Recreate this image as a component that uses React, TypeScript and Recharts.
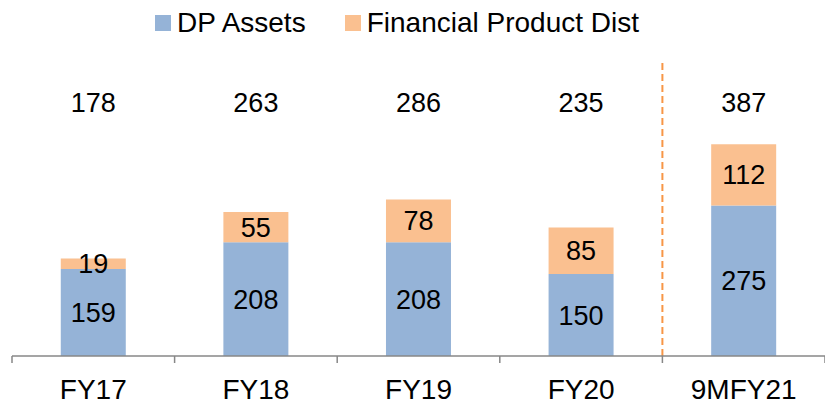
import { Bar, BarChart, LabelList, Legend, ReferenceLine, XAxis, YAxis } from "recharts";

const categories = ["FY17", "FY18", "FY19", "FY20", "9MFY21"];
const dpAssets = [159, 208, 208, 150, 275];
const financialProductDist = [19, 55, 78, 85, 112];
const totals = [178, 263, 286, 235, 387];

const data = categories.map((name, i) => ({
  name,
  dp: dpAssets[i],
  fpd: financialProductDist[i],
  total: totals[i],
}));

const W = 825;
const H = 405;
const LEFT = 12;
const band = (W - LEFT) / categories.length;
const font = "'Liberation Sans', Arial, sans-serif";

function AxisTick(props: any) {
  const { x, y, payload, index } = props;
  const last = index === categories.length - 1;
  return (
    <g>
      <line x1={x - band / 2} x2={x - band / 2} y1={y} y2={y + 7} stroke="#878787" strokeWidth={1.5} />
      {last && <line x1={x + band / 2} x2={x + band / 2} y1={y} y2={y + 7} stroke="#878787" strokeWidth={1.5} />}
      <text x={x} y={y + 43} textAnchor="middle" fontSize={28} fontFamily={font} fill="#000">
        {payload.value}
      </text>
    </g>
  );
}

function TotalLabel(props: any) {
  const { x, width, index } = props;
  return (
    <text x={x + width / 2} y={112} textAnchor="middle" fontSize={27} fontFamily={font} fill="#000">
      {totals[index]}
    </text>
  );
}

function LegendBox() {
  const item = (color: string, label: string) => (
    <div style={{ display: "flex", alignItems: "center", marginRight: 39 }}>
      <span style={{ width: 16, height: 16, background: color, display: "inline-block", marginRight: 6 }} />
      <span>{label}</span>
    </div>
  );
  return (
    <div style={{ display: "flex", fontFamily: font, fontSize: 28, color: "#000", lineHeight: "32px" }}>
      {item("#95B3D7", "DP Assets")}
      {item("#FAC090", "Financial Product Dist")}
    </div>
  );
}

export default function App() {
  return (
    <div style={{ position: "absolute", left: 0, top: 0, width: W, height: H, background: "#fff" }}>
      <BarChart
        width={W}
        height={H}
        data={data}
        margin={{ top: 28, right: 0, bottom: 0, left: LEFT }}
        barCategoryGap="30%"
      >
        <Legend
          verticalAlign="top"
          content={() => <LegendBox />}
          wrapperStyle={{ position: "absolute", top: 7, left: 155, width: "auto", height: 32 }}
        />
        <YAxis hide domain={[0, 541]} />
        <XAxis
          dataKey="name"
          height={49}
          axisLine={{ stroke: "#878787", strokeWidth: 1.5 }}
          tickLine={false}
          tickSize={0}
          tickMargin={0}
          tick={<AxisTick />}
          interval={0}
        />
        <ReferenceLine
          x="9MFY21"
          position="start"
          stroke="#F79646"
          strokeWidth={2}
          strokeDasharray="7 4"
        />
        <Bar dataKey="dp" stackId="a" fill="#95B3D7" isAnimationActive={false}>
          <LabelList dataKey="dp" position="center" fontSize={27} fontFamily={font} fill="#000" />
        </Bar>
        <Bar dataKey="fpd" stackId="a" fill="#FAC090" isAnimationActive={false}>
          <LabelList dataKey="fpd" position="center" fontSize={27} fontFamily={font} fill="#000" />
          <LabelList dataKey="total" content={<TotalLabel />} />
        </Bar>
      </BarChart>
    </div>
  );
}
